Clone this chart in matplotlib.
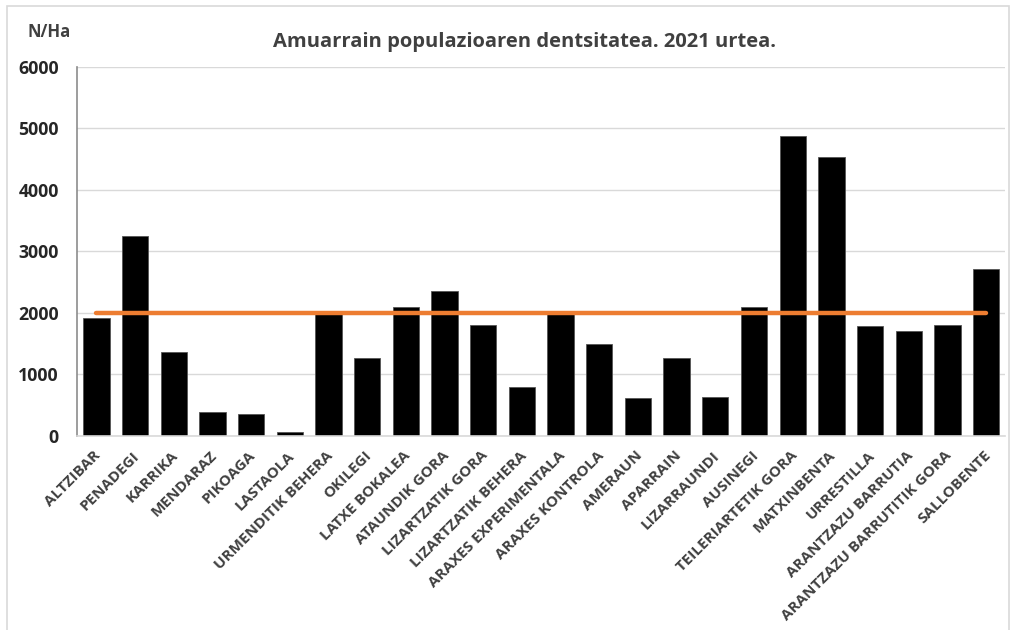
import matplotlib.pyplot as plt
from matplotlib.patches import Rectangle
from matplotlib.transforms import ScaledTranslation

# Trout population density per sampling station, 2021
stations = ['ALTZIBAR', 'PENADEGI', 'KARRIKA', 'MENDARAZ', 'PIKOAGA', 'LASTAOLA',
            'URMENDITIK BEHERA', 'OKILEGI', 'LATXE BOKALEA', 'ATAUNDIK GORA',
            'LIZARTZATIK GORA', 'LIZARTZATIK BEHERA', 'ARAXES EXPERIMENTALA',
            'ARAXES KONTROLA', 'AMERAUN', 'APARRAIN', 'LIZARRAUNDI', 'AUSINEGI',
            'TEILERIARTETIK GORA', 'MATXINBENTA', 'URRESTILLA', 'ARANTZAZU BARRUTIA',
            'ARANTZAZU BARRUTITIK GORA', 'SALLOBENTE']
density = [1915, 3250, 1360, 395, 365, 60, 1980, 1273, 2098, 2363,
           1800, 792, 1990, 1490, 612, 1273, 629, 2093,
           4883, 4532, 1784, 1702, 1810, 2720]
reference = 2000
yticks = [0, 1000, 2000, 3000, 4000, 5000, 6000]

plt.rcParams['font.family'] = ['Open Sans', 'DejaVu Sans']

fig = plt.figure(figsize=(10.11, 6.30), dpi=100)
ax = fig.add_axes([0.0762, 0.308, 0.9183, 0.5857])

x = range(len(stations))
ax.bar(x, density, width=0.68, color='black', edgecolor='#555555', linewidth=0.6, zorder=2)
ax.plot([0, len(stations) - 1], [reference, reference], color='#ED7D31',
        linewidth=3.2, solid_capstyle='round', zorder=3)

ax.set_xlim(-0.5, len(stations) - 0.5)
ax.set_ylim(0, 6000)
ax.set_yticks(yticks)
ax.set_yticklabels([str(v) for v in yticks], fontsize=12.8, fontweight='bold', color='#262626')
ax.set_xticks(list(x))
ax.set_xticklabels(stations, rotation=45, ha='right', va='top', rotation_mode='anchor',
                   fontsize=11, fontweight='bold', color='#404040')
ax.tick_params(axis='both', length=0)
ax.tick_params(axis='y', pad=13)
ax.tick_params(axis='x', pad=9)
shift = ScaledTranslation(-2 / 72, 0, fig.dpi_scale_trans)
for lbl in ax.get_xticklabels():
    lbl.set_transform(lbl.get_transform() + shift)

ax.grid(axis='y', color='#d9d9d9', linewidth=1, zorder=0)
ax.set_axisbelow(True)
for side in ['top', 'right']:
    ax.spines[side].set_visible(False)
ax.spines['left'].set_color('#8c8c8c')
ax.spines['left'].set_linewidth(1.2)
ax.spines['bottom'].set_color('#d9d9d9')
ax.spines['bottom'].set_linewidth(1.2)

fig.text(0.519, 0.933, 'Amuarrain populazioaren dentsitatea. 2021 urtea.',
         ha='center', va='center', fontsize=14.5, fontweight='bold', color='#404040')
fig.text(0.049, 0.949, 'N/Ha', ha='center', va='center', fontsize=12,
         fontweight='bold', color='#404040')

# light frame around the whole chart
fig.patches.append(Rectangle((0.007, -0.01), 0.991, 1.0, transform=fig.transFigure,
                             fill=False, edgecolor='#d9d9d9', linewidth=1.2))

fig.savefig('out.png', dpi=100)
